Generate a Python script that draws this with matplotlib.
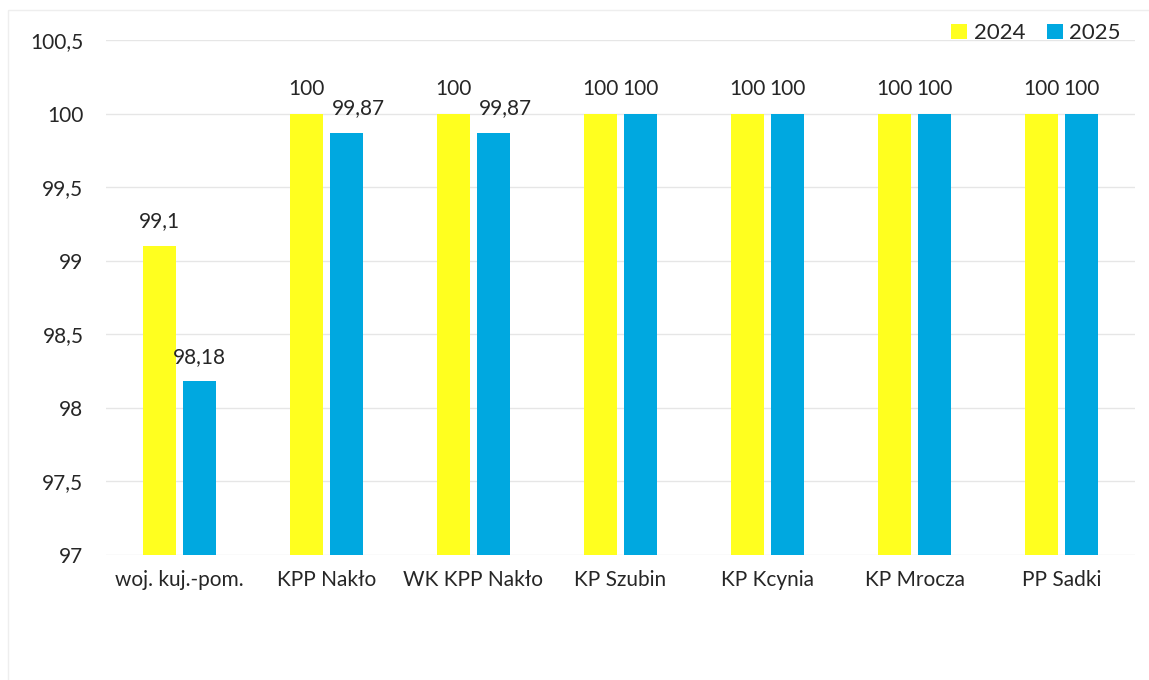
import matplotlib.pyplot as plt
import numpy as np
from matplotlib.patches import Rectangle

# ===============================
# Data
# ===============================
categories = ["woj. kuj.-pom.", "KPP Nakło", "WK KPP Nakło", "KP Szubin",
              "KP Kcynia", "KP Mrocza", "PP Sadki"]
values_2024 = [99.1, 100, 100, 100, 100, 100, 100]
values_2025 = [98.18, 99.87, 99.87, 100, 100, 100, 100]
labels_2024 = ["99,1", "100", "100", "100", "100", "100", "100"]
labels_2025 = ["98,18", "99,87", "99,87", "100", "100", "100", "100"]
yticks = [97, 97.5, 98, 98.5, 99, 99.5, 100, 100.5]
ytick_labels = ["97", "97,5", "98", "98,5", "99", "99,5", "100", "100,5"]

yellow = "#FFFF1F"
blue = "#00A8E0"
textcol = "#262626"

plt.rcParams['font.family'] = ['Lato', 'DejaVu Sans']

fig = plt.figure(figsize=(11.49, 6.8), dpi=100)
ax = fig.add_axes([0.092, 0.184, 0.896, 0.757])

x = np.arange(len(categories))
w = 0.225
off = 0.136
b1 = ax.bar(x - off, np.array(values_2024) - 97, w, bottom=97, color=yellow, label="2024")
b2 = ax.bar(x + off, np.array(values_2025) - 97, w, bottom=97, color=blue, label="2025")

for xi, v, t in zip(x - off, values_2024, labels_2024):
    ax.text(xi, v + 0.1, t, ha="center", va="bottom", fontsize=15, color=textcol)
for xi, v, t in zip(x + off, values_2025, labels_2025):
    # Excel nudges the shorter blue labels a bit to the right when they crowd
    dx = 0.08 if len(t) > 3 and v > 99.5 else 0
    ax.text(xi + dx, v + 0.1, t, ha="center", va="bottom", fontsize=15, color=textcol)

ax.set_ylim(97, 100.5)
ax.set_xlim(-0.5, len(categories) - 0.5)
ax.set_yticks(yticks)
ax.set_yticklabels(ytick_labels)
ax.set_xticks(x)
ax.set_xticklabels(categories)
ax.tick_params(axis="y", length=0, pad=16, labelsize=15, labelcolor=textcol)
ax.tick_params(axis="x", length=0, pad=11, labelsize=15, labelcolor=textcol)
ax.grid(axis="y", color="#E6E6E6", linewidth=1)
ax.set_axisbelow(True)
for s in ax.spines.values():
    s.set_visible(False)

fig.legend(handles=[b1, b2], loc="upper right", bbox_to_anchor=(0.993, 0.995),
           ncol=2, frameon=False, fontsize=16, handlelength=0.7, handleheight=0.7,
           handletextpad=0.3, columnspacing=1.0, labelcolor=textcol)

# faint chart border
fig.patches.append(Rectangle((0.007, -0.01), 1.1, 0.995, transform=fig.transFigure,
                             fill=False, edgecolor="#EEEEEE", linewidth=1))

fig.savefig("out.png", dpi=100)
